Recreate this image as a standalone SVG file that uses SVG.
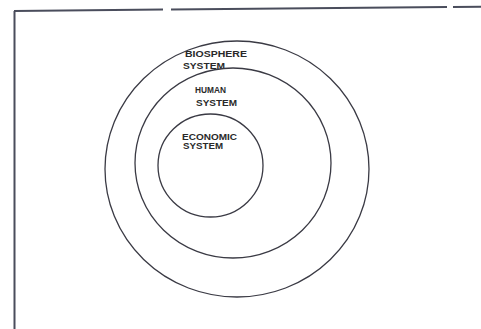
<svg xmlns="http://www.w3.org/2000/svg" width="481" height="329" viewBox="0 0 481 329">
<style>
.ring{fill:none;stroke:#3a3a44;stroke-width:1.3}
.frame{fill:none;stroke:#4a4d5c;stroke-width:2}
.lbl{font-family:"Liberation Sans",Arial,sans-serif;font-weight:bold;font-size:8.5px;fill:#2a2a2a}
</style>
<rect width="481" height="329" fill="#ffffff"/>
<g id="frame">
<line class="frame" x1="14.5" y1="11" x2="14.5" y2="329"/>
<line class="frame" x1="14" y1="11" x2="163" y2="9.5"/>
<line class="frame" x1="171" y1="9.4" x2="447" y2="7"/>
<line class="frame" x1="453" y1="7" x2="481" y2="6.8"/>
</g>
<g id="biosphere">
<ellipse class="ring" cx="237" cy="169" rx="132" ry="128"/>
<text class="lbl" x="185" y="57" textLength="62" lengthAdjust="spacingAndGlyphs">BIOSPHERE</text>
<text class="lbl" x="183" y="69" textLength="42" lengthAdjust="spacingAndGlyphs">SYSTEM</text>
</g>
<g id="human">
<ellipse class="ring" cx="233" cy="163" rx="98" ry="95"/>
<text class="lbl" x="195" y="93" textLength="31" lengthAdjust="spacingAndGlyphs">HUMAN</text>
<text class="lbl" x="196" y="106" textLength="41" lengthAdjust="spacingAndGlyphs">SYSTEM</text>
</g>
<g id="economic">
<ellipse class="ring" cx="210.5" cy="165.5" rx="52.5" ry="51.5"/>
<text class="lbl" x="182" y="140" textLength="55" lengthAdjust="spacingAndGlyphs">ECONOMIC</text>
<text class="lbl" x="183" y="149" textLength="40" lengthAdjust="spacingAndGlyphs">SYSTEM</text>
</g>
<g id="connectors"></g>
</svg>
